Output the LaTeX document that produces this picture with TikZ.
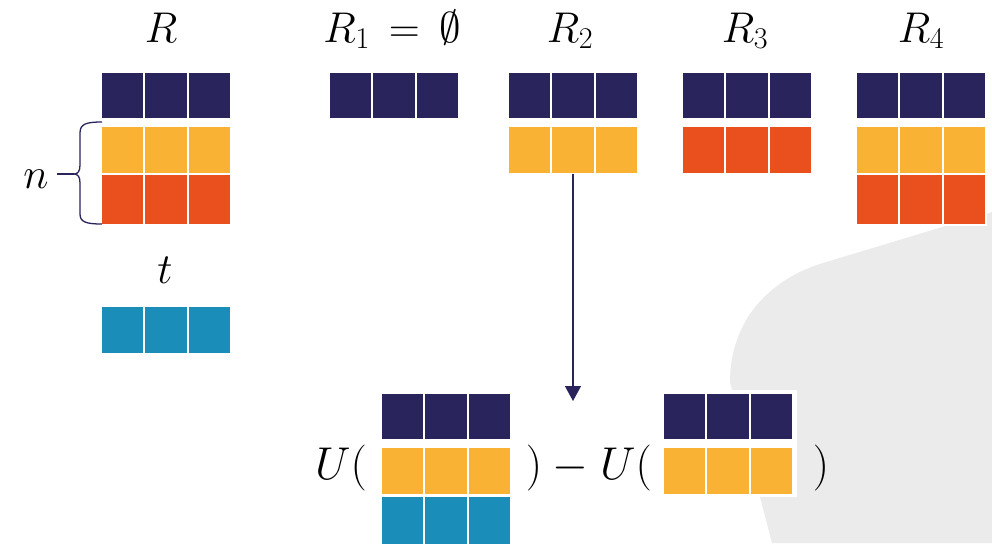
\RequirePackage{fix-cm}
\documentclass[tikz,border=0pt]{standalone}
\usetikzlibrary{arrows.meta}
\definecolor{navy}{HTML}{2A245C}
\definecolor{gold}{HTML}{F9B233}
\definecolor{rust}{HTML}{E9501E}
\definecolor{teal}{HTML}{1A8EB8}
\definecolor{bggrey}{HTML}{EBEBEB}
\newcommand{\cellrow}[5]{%
  \foreach \i in {0,1,2} {%
    \node[cell, fill=#5, minimum height=#4pt] (#1-\i) at ({#2+\i*43.333},#3) {};}}
\tikzset{
  cell/.style={rectangle, draw=white, line width=2pt, inner sep=0pt, outer sep=0pt,
    minimum width=43.333pt, anchor=north west},
  toplbl/.style={inner sep=0pt, anchor=base, font=\fontsize{43}{50}\selectfont},
  botlbl/.style={inner sep=0pt, anchor=base, font=\fontsize{46}{54}\selectfont},
  arr/.style={draw=navy, line width=1.3pt, -{Triangle[width=16pt,length=15pt]}},
  bracestyle/.style={draw=navy, line width=1.3pt}
}
\begin{document}
\begin{tikzpicture}[x=1pt,y=-1pt]
\useasboundingbox (0,0) rectangle (992,543);
\clip (0,0) rectangle (992,543);
% grey background shape
\fill[bggrey] (992,212) -- (823,263) .. controls (770,279) and (730,320) .. (730,382)
  -- (772,543) -- (992,543) -- cycle;
% labels
\node[toplbl] (lR) at (161,42) {$R$};
\node[toplbl] (lR1) at (392,42) {$R_1\,=\,\emptyset$};
\node[toplbl] (lR2) at (570,42) {$R_2$};
\node[toplbl] (lR3) at (745,42) {$R_3$};
\node[toplbl] (lR4) at (921,42) {$R_4$};
\node[toplbl] (lt) at (165,283) {$t$};
\node[toplbl] (ln) at (36,188) {$n$};
% R block
\cellrow{Ra}{101}{72}{47}{navy}
\cellrow{Rb}{101}{126}{48}{gold}
\cellrow{Rc}{101}{174}{51}{rust}
% t block
\cellrow{T}{101}{306}{48}{teal}
% R1
\cellrow{Ra1}{329}{72}{47}{navy}
% R2
\cellrow{Rb2}{508}{72}{47}{navy}
\cellrow{Ry2}{508}{126}{48}{gold}
% R3
\cellrow{Rb3}{682}{72}{47}{navy}
\cellrow{Rr3}{682}{126}{48}{rust}
% R4
\cellrow{Rb4}{856}{72}{47}{navy}
\cellrow{Ry4}{856}{126}{48}{gold}
\cellrow{Rr4}{856}{174}{51}{rust}
% brace
\draw[bracestyle] (102,122) .. controls (86,122) and (80,124) .. (80,133) -- (80,165)
  .. controls (80,171) and (78,174) .. (74,174)
  .. controls (78,174) and (80,177) .. (80,183) -- (80,214)
  .. controls (80,222) and (86,224) .. (102,224);
\draw[bracestyle] (74,174) -- (57,174);
% arrow
\coordinate (aend) at (573,401);
\draw[arr] (Ry2-1.south) -- (Ry2-1.south |- aend);
% bottom expression
\node[botlbl] (U1) at (341,479) {$U($};
\cellrow{Ba}{381}{393}{47}{navy}
\cellrow{By}{381}{447}{48}{gold}
\cellrow{Bt}{381}{496}{50}{teal}
\node[botlbl] (cl1) at (534,479) {$)$};
\node[botlbl] (minus) at (570,479) {$-$};
\node[botlbl] (U2) at (626,479) {$U($};
\fill[white] (659,390) rectangle (797,497);
\cellrow{Ca}{663}{393}{47}{navy}
\cellrow{Cy}{663}{447}{48}{gold}
\node[botlbl] (cl2) at (821,479) {$)$};
\end{tikzpicture}
\end{document}
